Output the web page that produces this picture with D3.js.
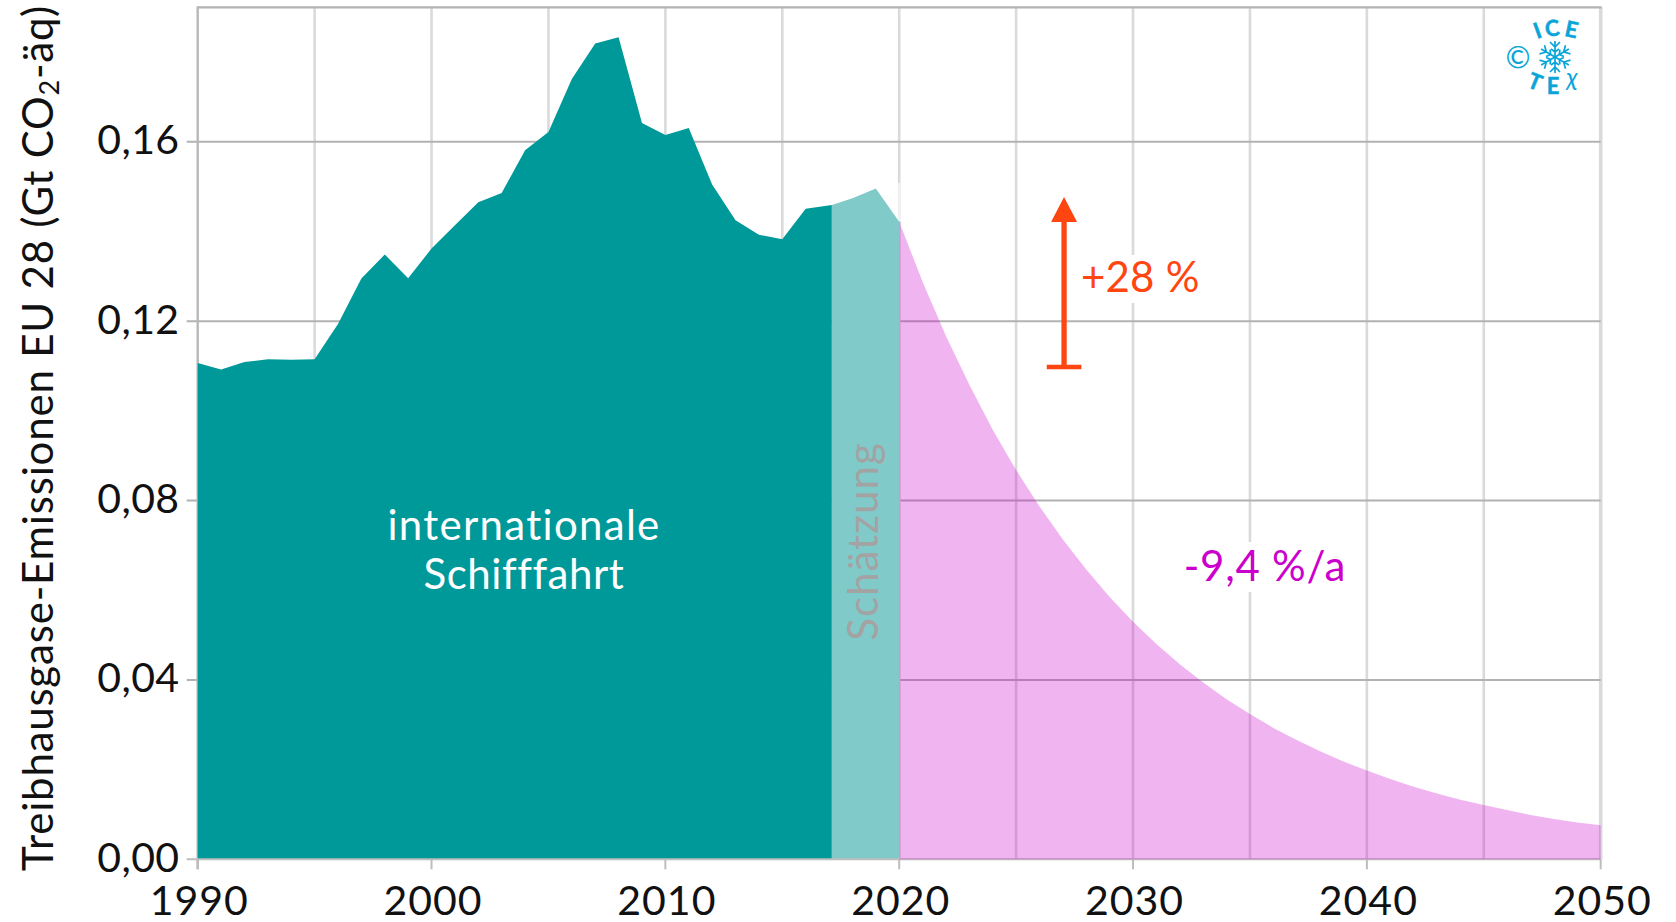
<!DOCTYPE html>
<html><head><meta charset="utf-8">
<script src="https://cdn.jsdelivr.net/npm/d3@7"></script>
<style>html,body{margin:0;padding:0;background:#fff;overflow:hidden}text{font-family:Lato,"Open Sans",sans-serif}</style>
</head><body><svg id="c" width="1676" height="922"></svg>
<script>
const measuredYears = [...d3.range(1990, 2017), 2017.12];
const measuredValues = [.1107,.1092,.1109,.1115,.1114,.1115,.1194,.1295,.1349,.1296,.1362,.1414,.1465,.1486,.1581,.1622,.1740,.1819,.1833,.1642,.1615,.1631,.1505,.1425,.1393,.1383,.1451,.1459];
const estimateYears = [2017.12,2018,2019,2020];
const estimateValues = [.1459,.1474,.1496,.1422];
const pathYears = d3.range(2020, 2051);
const pathValues = [.1422,.1288,.1167,.1058,.0958,.0868,.0787,.0713,.0646,.0585,.0530,.0480,.0435,.0394,.0357,.0324,.0293,.0266,.0241,.0218,.0198,.0179,.0162,.0147,.0133,.0121,.0110,.0099,.0090,.0082,.0076];
const xTicks = [1990,2000,2010,2020,2030,2040,2050];
const xGrid = d3.range(1995,2051,5);
const yTicks = [0,.04,.08,.12,.16];
const arrowFrom = .1098, arrowTo = .1421, arrowYear = 2027.05;

const svg = d3.select('#c');
const x = d3.scaleLinear([1990,2050],[197.7,1600.7]);
const y = d3.scaleLinear([0,.19],[859.3,7.3]);
const fmt = v => d3.format('.2f')(v).replace('.',',');
const black='#111';
const label=(px,py,s,fill,ls,anchor='middle')=>svg.append('text').attr('x',px).attr('y',py).attr('text-anchor',anchor)
  .attr('font-size',42).attr('letter-spacing',ls).attr('fill',fill).text(s);

// grid
svg.append('g').selectAll('line').data(xGrid).join('line')
  .attr('x1',d=>x(d)).attr('x2',d=>x(d)).attr('y1',y(.19)).attr('y2',y(0))
  .attr('stroke','#dadada').attr('stroke-width',d=>d===2050?3.6:2.6);
svg.append('g').selectAll('line').data(yTicks.filter(d=>d>0)).join('line')
  .attr('x1',x(1990)-11).attr('x2',x(2050)).attr('y1',d=>y(d)).attr('y2',d=>y(d))
  .attr('stroke','#b2b2b2').attr('stroke-width',2);
// frame
svg.append('line').attr('x1',x(1990)-1).attr('x2',x(2050)+1).attr('y1',y(.19)).attr('y2',y(.19)).attr('stroke','#b2b2b2').attr('stroke-width',2.2);
svg.append('line').attr('x1',x(1990)).attr('x2',x(1990)).attr('y1',y(.19)).attr('y2',y(0)+10).attr('stroke','#b8b8b8').attr('stroke-width',2.4);

const area = (xs,vs)=>d3.area().x((d,i)=>x(xs[i])).y0(y(0)).y1(d=>y(d))(vs);
// pale stretch of the 2020 gridline above the curve
svg.append('line').attr('x1',x(2020)).attr('x2',x(2020)).attr('y1',183).attr('y2',y(.1422)).attr('stroke','#fff').attr('stroke-opacity',.6).attr('stroke-width',2.6);
svg.append('path').attr('d',area(measuredYears,measuredValues)).attr('fill','#009999');
svg.append('path').attr('d',area(estimateYears,estimateValues)).attr('fill','#81caca');
// axis base + ticks
svg.append('line').attr('x1',x(1990)-11).attr('x2',x(2050)).attr('y1',y(0)).attr('y2',y(0)).attr('stroke','#bdbdbd').attr('stroke-width',2);
svg.append('g').selectAll('line').data(xTicks).join('line')
  .attr('x1',d=>x(d)).attr('x2',d=>x(d)).attr('y1',y(0)).attr('y2',y(0)+10)
  .attr('stroke','#bdbdbd').attr('stroke-width',2);
svg.append('path').attr('d',area(pathYears,pathValues)).attr('fill','#cc00cc').attr('fill-opacity',.29);
svg.append('line').attr('x1',x(2020)+.5).attr('x2',x(2020)+.5).attr('y1',y(.1422)).attr('y2',y(0)).attr('stroke','#c9a0cf').attr('stroke-width',1.6);

// tick labels
svg.append('g').selectAll('text').data(yTicks).join('text')
  .attr('x',179.5).attr('y',d=>y(d)+12.5).attr('text-anchor','end')
  .attr('font-size',41).attr('letter-spacing',.4).attr('fill',black).text(fmt);
svg.append('g').selectAll('text').data(xTicks).join('text')
  .attr('x',d=>x(d)+1.5).attr('y',914.5).attr('text-anchor','middle')
  .attr('font-size',41).attr('letter-spacing',1).attr('fill',black).text(d=>d);

// y title
const t = svg.append('text').attr('transform','translate(52.7,871) rotate(-90)').attr('font-size',42).attr('letter-spacing',.8).attr('fill',black);
t.append('tspan').text('Treibhausgase-Emissionen EU 28 (Gt CO');
t.append('tspan').attr('font-size',27).attr('dy',6).text('2');
t.append('tspan').attr('dy',-6).text('-äq)');

// gaps in the gridlines behind the free-standing labels
svg.append('rect').attr('x',1080).attr('y',255).attr('width',122).attr('height',48).attr('fill','#fff');
svg.append('rect').attr('x',1182).attr('y',542).attr('width',164).attr('height',50).attr('fill','#fff');

// labels
label(524,539.5,'internationale','#fff',1.3);
label(524,589,'Schifffahrt','#fff',.55);
svg.append('text').attr('transform','translate(878,541.5) rotate(-90)').attr('text-anchor','middle').attr('font-size',42).attr('letter-spacing',1).attr('fill','#a3a3a3').text('Schätzung');
label(1265,581,'-9,4 %/a','#cc00cc',.75);

// arrow
const orange='#ff4510', ax=x(arrowYear);
svg.append('line').attr('x1',ax).attr('x2',ax).attr('y1',y(arrowFrom)).attr('y2',y(arrowTo)).attr('stroke',orange).attr('stroke-width',5.3);
svg.append('line').attr('x1',ax-17.3).attr('x2',ax+17.3).attr('y1',y(arrowFrom)).attr('y2',y(arrowFrom)).attr('stroke',orange).attr('stroke-width',4.6);
svg.append('path').attr('d',`M${ax},${y(arrowTo)-25}L${ax+13},${y(arrowTo)}L${ax-13},${y(arrowTo)}Z`).attr('fill',orange);
label(1081,292,'+28 %',orange,.2,'start');

// logo
const blue='#0aa5d8';
const logo=svg.append('g').attr('fill',blue);
const letter=(c,px,py,r)=>logo.append('text').attr('transform',`translate(${px},${py}) rotate(${r})`).attr('text-anchor','middle')
  .attr('font-size',22).attr('font-weight',700).attr('font-family','Liberation Sans').attr('stroke',blue).attr('stroke-width',.5).text(c);
letter('I',1540,38,-20); letter('C',1553,36,-6); letter('E',1570,37,12);
letter('T',1532,89,22); letter('E',1553,94,0);
logo.append('text').attr('x',1572).attr('y',86).attr('text-anchor','middle').attr('font-size',25).attr('font-style','italic').attr('font-family','Liberation Serif').text('χ');
logo.append('text').attr('x',1518).attr('y',67.5).attr('text-anchor','middle').attr('font-size',30).attr('font-family','Liberation Sans').text('©');
const flake=logo.append('g').attr('transform','translate(1555,57)').attr('stroke',blue).attr('stroke-width',1.7).attr('fill','none');
d3.range(6).forEach(i=>{
  const g=flake.append('g').attr('transform',`rotate(${i*60})`);
  g.append('path').attr('d','M0,0V-16M-5,-15L0,-10L5,-15M-4,-8L0,-5L4,-8');
});
</script></body></html>
